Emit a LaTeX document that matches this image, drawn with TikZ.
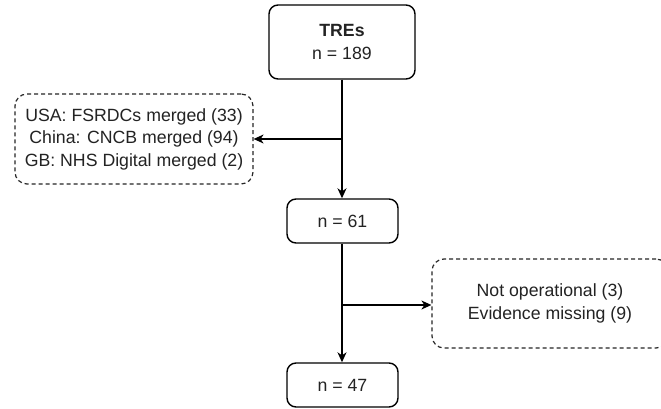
\documentclass[tikz,border=0pt]{standalone}
\usepackage{fontspec}
\setmainfont{Liberation Sans}
\usetikzlibrary{arrows.meta}
\definecolor{txt}{RGB}{35,35,35}
\begin{document}
\begin{tikzpicture}[x=1pt,y=-1pt,
  solidbox/.style={draw=black,line width=1.4pt,rounded corners=9pt,fill=white,
    inner sep=0pt,align=center,text=txt,font=\fontsize{17.7}{23}\selectfont},
  dashbox/.style={draw=black!85,line width=1.2pt,dash pattern=on 4pt off 3pt,rounded corners=12pt,
    inner sep=0pt,align=center,text=txt,font=\fontsize{17.7}{22.5}\selectfont},
  conn/.style={line width=1.4pt,-{Stealth[length=10pt,width=9pt,inset=3pt]}}]
\useasboundingbox (0,0) rectangle (661,409);
\fill[white] (0,0) rectangle (661,409);
\begin{scope}
\clip (0,0) rectangle (661,409);
\node[solidbox,minimum width=146pt,minimum height=74pt] (tres) at (342,42) {\textbf{TREs}\\n = 189};
\node[dashbox,minimum width=238pt,minimum height=90pt] (left) at (134,139)
  {USA: FSRDCs merged (33)\\China: CNCB merged (94)\\GB: NHS Digital merged (2)};
\node[solidbox,minimum width=111pt,minimum height=44pt] (n61) at (342.5,221) {n = 61};
\node[dashbox,minimum width=236pt,minimum height=89pt] (right) at (550,303.5)
  {Not operational (3)\\Evidence missing (9)};
\node[solidbox,minimum width=111pt,minimum height=44pt] (n47) at (342.5,385) {n = 47};
\coordinate (b1) at (342,139);
\coordinate (b2) at (342,305);
\draw[conn] (tres.south -| b1) -- (n61.north -| b1);
\draw[conn] (n61.south -| b2) -- (n47.north -| b2);
\draw[conn] (b1) -- (b1 -| left.east);
\draw[conn] (b2) -- (b2 -| right.west);
\end{scope}
\end{tikzpicture}
\end{document}
